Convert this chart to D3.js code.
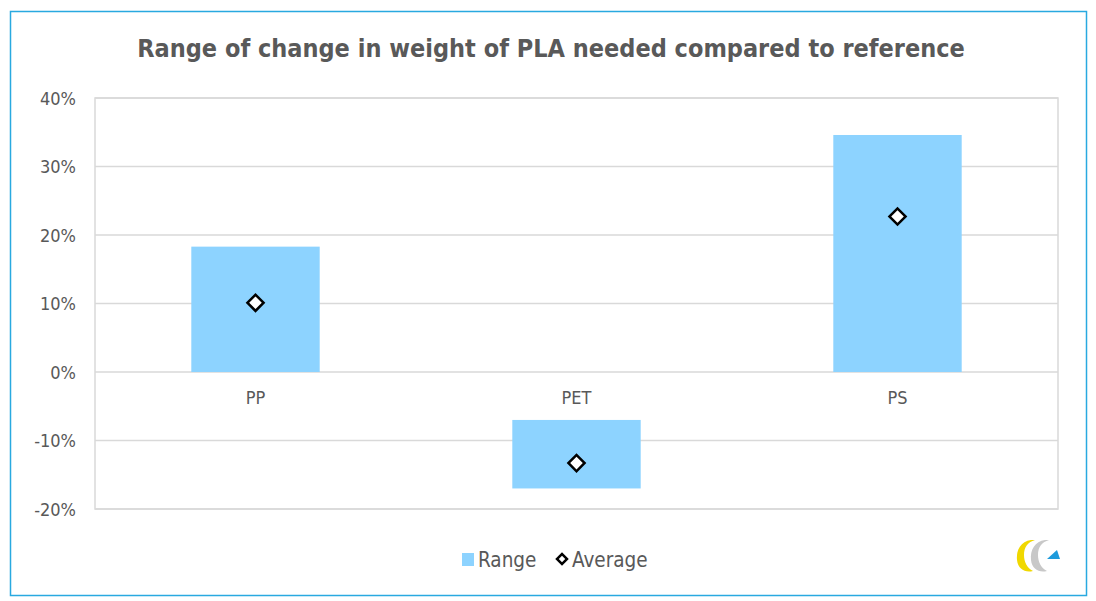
<!DOCTYPE html>
<html><head><meta charset="utf-8">
<script src="https://cdn.jsdelivr.net/npm/d3@7"></script>
<style>
body{margin:0;background:#fff;}
text{font-family:"DejaVu Sans Condensed","DejaVu Sans",sans-serif;fill:#595959;}
</style></head>
<body><svg id="c" width="1096" height="601"></svg>
<script>
const categories = ["PP", "PET", "PS"];
const rangeLow = [0.0, -0.17, 0.0];
const rangeHigh = [0.183, -0.07, 0.346];
const averages = [0.101, -0.133, 0.227];
const yTicks = [-0.2, -0.1, 0, 0.1, 0.2, 0.3, 0.4];
const title = "Range of change in weight of PLA needed compared to reference";
const legendLabels = ["Range", "Average"];

const svg = d3.select("#c");
svg.append("rect").attr("x",10.5).attr("y",11.5).attr("width",1076).attr("height",584)
  .attr("fill","#fff").attr("stroke","#29A9E0").attr("stroke-width",1.5);

const L=95, R=1058, T=98, B=509;
const x = d3.scaleBand().domain(categories).range([L,R]).paddingInner(0.6).paddingOuter(0.3);
const y = d3.scaleLinear().domain([-0.2,0.4]).range([B,T]);

// grid
svg.append("g").selectAll("line").data(yTicks).join("line")
  .attr("x1",L).attr("x2",R).attr("y1",d=>y(d)).attr("y2",d=>y(d))
  .attr("stroke","#d9d9d9").attr("stroke-width",1.5);
svg.append("rect").attr("x",L).attr("y",T).attr("width",R-L).attr("height",B-T)
  .attr("fill","none").attr("stroke","#d9d9d9").attr("stroke-width",1.5);

// y axis
const pct = d => Math.round(d*100) + "%";
const yAxis = d3.axisLeft(y).tickValues(yTicks).tickFormat(pct).tickSize(0).tickPadding(19);
const ya = svg.append("g").attr("transform",`translate(${L},0)`).call(yAxis);
ya.select(".domain").remove();
ya.selectAll("text").style("font-size","18px").attr("fill","#595959").attr("dy","0.35em");

// bars
svg.append("g").selectAll("rect").data(categories).join("rect")
  .attr("x",d=>x(d)).attr("width",x.bandwidth())
  .attr("y",(d,i)=>y(rangeHigh[i])).attr("height",(d,i)=>y(rangeLow[i])-y(rangeHigh[i]))
  .attr("fill","#8DD3FF");

// x labels near zero line
const xAxis = d3.axisBottom(x).tickSize(0).tickPadding(19);
const xa = svg.append("g").attr("transform",`translate(0,${y(0)})`).call(xAxis);
xa.select(".domain").remove();
xa.selectAll("text").style("font-size","18px").attr("fill","#595959");

// diamonds
const sym = d3.symbol().type(d3.symbolSquare).size(130);
svg.append("g").selectAll("path").data(categories).join("path")
  .attr("d",sym)
  .attr("transform",(d,i)=>`translate(${x(d)+x.bandwidth()/2},${y(averages[i])}) rotate(45)`)
  .attr("fill","#fff").attr("stroke","#000").attr("stroke-width",2.5);

// title
svg.append("text").attr("x",551).attr("y",57).attr("text-anchor","middle")
  .style("font-size","25px").style("font-weight","bold").text(title);

// legend
const lg = svg.append("g");
lg.append("rect").attr("x",462).attr("y",553).attr("width",12).attr("height",13).attr("fill","#8DD3FF");
lg.append("text").attr("x",478).attr("y",567).style("font-size","20.5px").text(legendLabels[0]);
lg.append("path").attr("d",d3.symbol().type(d3.symbolSquare).size(50))
  .attr("transform","translate(562,559) rotate(45)").attr("fill","#fff").attr("stroke","#000").attr("stroke-width",2.5);
lg.append("text").attr("x",572).attr("y",567).style("font-size","20.5px").text(legendLabels[1]);

// logo
const lgo = svg.append("g").attr("transform","translate(1015,538)");
lgo.append("path").attr("d","M16,2 C6,3 1,12 2,22 C3,31 10,35 18,33 C12,30 9,24 9,17 C9,9 13,4 20,2 Z").attr("fill","#F0D800");
lgo.append("path").attr("d","M30,2 C20,3 15,12 16,22 C17,31 24,35 32,33 C26,30 23,24 23,17 C23,9 27,4 34,2 Z").attr("fill","#c8c8c8");
lgo.append("path").attr("d","M32,21 L45,21 L42,12 Z").attr("fill","#1E9BDC");
</script></body></html>
